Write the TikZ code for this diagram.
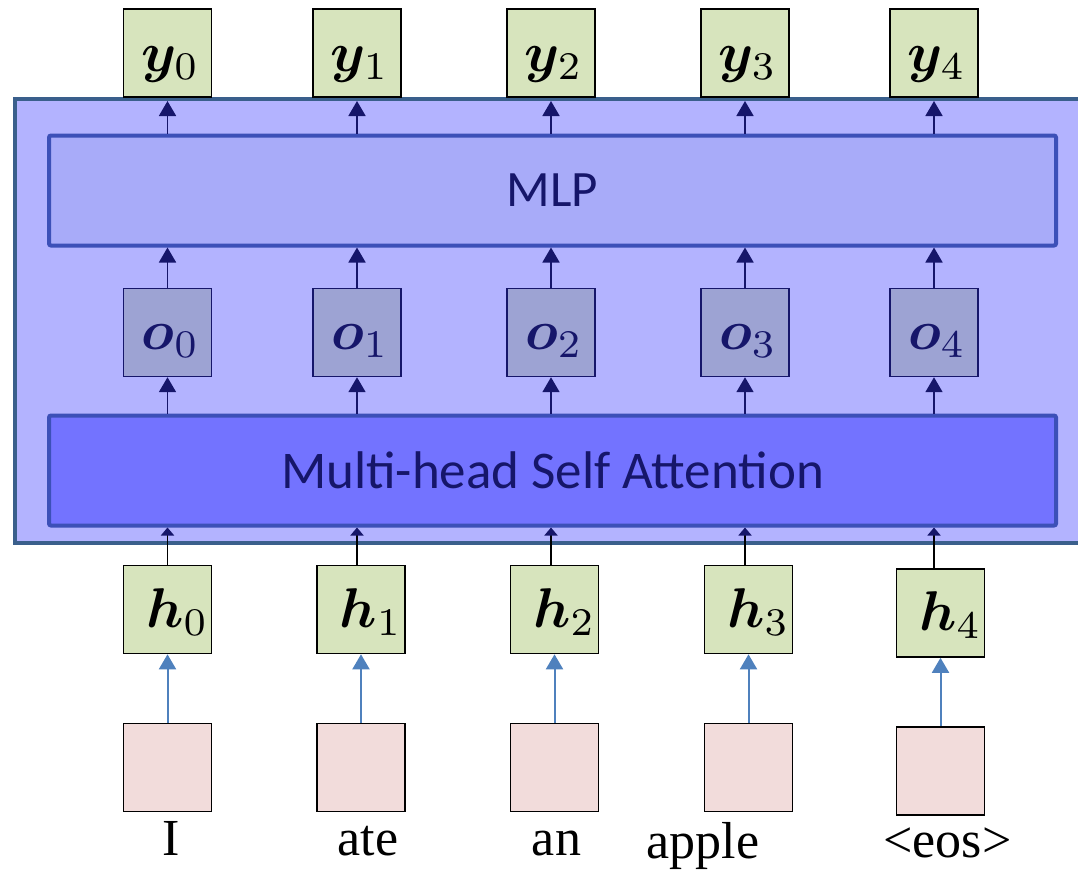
\RequirePackage{fix-cm}
\documentclass[tikz,border=0pt]{standalone}
\usepackage{amsmath,bm}
\usepackage{fontspec}
\usetikzlibrary{arrows.meta}
\newfontfamily\calib{Carlito}
\newfontfamily\tnr{Liberation Serif}
\definecolor{vecgreen}{HTML}{D7E4BD}
\definecolor{embpink}{HTML}{F2DCDB}
\definecolor{outerfill}{HTML}{B3B3FF}
\definecolor{outerdraw}{HTML}{3A5F8C}
\definecolor{mlpfill}{HTML}{A8ABF9}
\definecolor{msafill}{HTML}{7373FF}
\definecolor{layerdraw}{HTML}{3C50B8}
\definecolor{ofill}{HTML}{9DA3D3}
\definecolor{navy}{HTML}{16166A}
\definecolor{blarr}{HTML}{4F81BD}
\newcommand{\veclab}[2]{\scalebox{5.6}{$\bm{#1}_{#2}$}}
\tikzset{
  vecbox/.style={draw=black, line width=1.6pt, fill=vecgreen, minimum width=88pt, minimum height=88pt, inner sep=0pt},
  obox/.style={draw=navy, line width=1.4pt, fill=ofill, minimum width=88pt, minimum height=88pt, inner sep=0pt},
  embbox/.style={draw=black, line width=1.6pt, fill=embpink, minimum width=88pt, minimum height=88pt, inner sep=0pt},
  lab/.style={anchor=base, inner sep=0pt, font=\fontsize{10}{12}\selectfont},
  olab/.style={lab, text=navy},
  layer/.style={draw=layerdraw, line width=4pt, rounded corners=2pt, minimum width=1007pt, minimum height=110pt, inner sep=0pt, text=navy, font=\calib\fontsize{51}{60}\selectfont},
  word/.style={font=\tnr\fontsize{52}{60}\selectfont, inner sep=0pt, anchor=base},
  uparr/.style={draw=navy, line width=1.8pt, -{Triangle[width=17pt,length=15pt]}},
  inarr/.style={draw=black, line width=1.8pt, -{Triangle[width=13pt,length=8pt,color=navy]}},
  blarrow/.style={draw=blarr, line width=2pt, -{Triangle[width=17pt,length=15pt]}}
}
\begin{document}
\begin{tikzpicture}[x=1pt,y=-1pt]
\useasboundingbox (0,0) rectangle (1078,871);
% outer block
\draw[fill=outerfill, draw=outerdraw, line width=4.5pt] (15,99) rectangle (1095,543);
% layers
\node[layer, fill=mlpfill] (mlp) at (552.5,190.5) {MLP};
\node[layer, fill=msafill, font=\calib\fontsize{53}{62}\selectfont] (msa) at (552.5,470.5) {Multi-head Self Attention};
% outputs
\foreach \i/\x in {0/167.5,1/357,2/551,3/745,4/934}{
  \node[vecbox] (y\i) at (\x,53) {};
  \node[lab] (y\i t) at ([shift={(3,18)}]y\i.center) {\veclab{y}{\i}};
  \node[obox] (o\i) at (\x,332.5) {};
  \node[olab] (o\i t) at ([shift={(3,16.5)}]o\i.center) {\veclab{o}{\i}};
}
% h vectors and embeddings
\foreach \i/\x/\dy in {0/167.5/0,1/361/0,2/554.5/0,3/748.5/0,4/940.5/3.5}{
  \node[vecbox] (h\i) at (\x,609.5+\dy) {};
  \node[lab] (h\i t) at ([shift={(10,17.5)}]h\i.center) {\veclab{h}{\i}};
  \node[embbox] (e\i) at (\x,767.5+\dy) {};
}
% words
\node[word] (w0) at (171.5,855) {I};
\node[word] (w1) at (368,855) {ate};
\node[word] (w2) at (556.5,855) {an};
\node[word] (w3) at (703,858) {apple};
\node[word] (w4) at (947.5,857) {<eos>};
% arrows
\foreach \i in {0,...,4}{
  \draw[uparr] (mlp.north -| y\i) -- (y\i |- 0,101);
  \draw[uparr] (o\i.north) -- (mlp.south -| o\i);
  \draw[uparr] (msa.north -| o\i) -- (o\i.south);
  \draw[inarr] (h\i.north -| o\i) -- (msa.south -| o\i);
  \draw[blarrow] (e\i.north) -- (h\i.south);
}
\end{tikzpicture}
\end{document}
